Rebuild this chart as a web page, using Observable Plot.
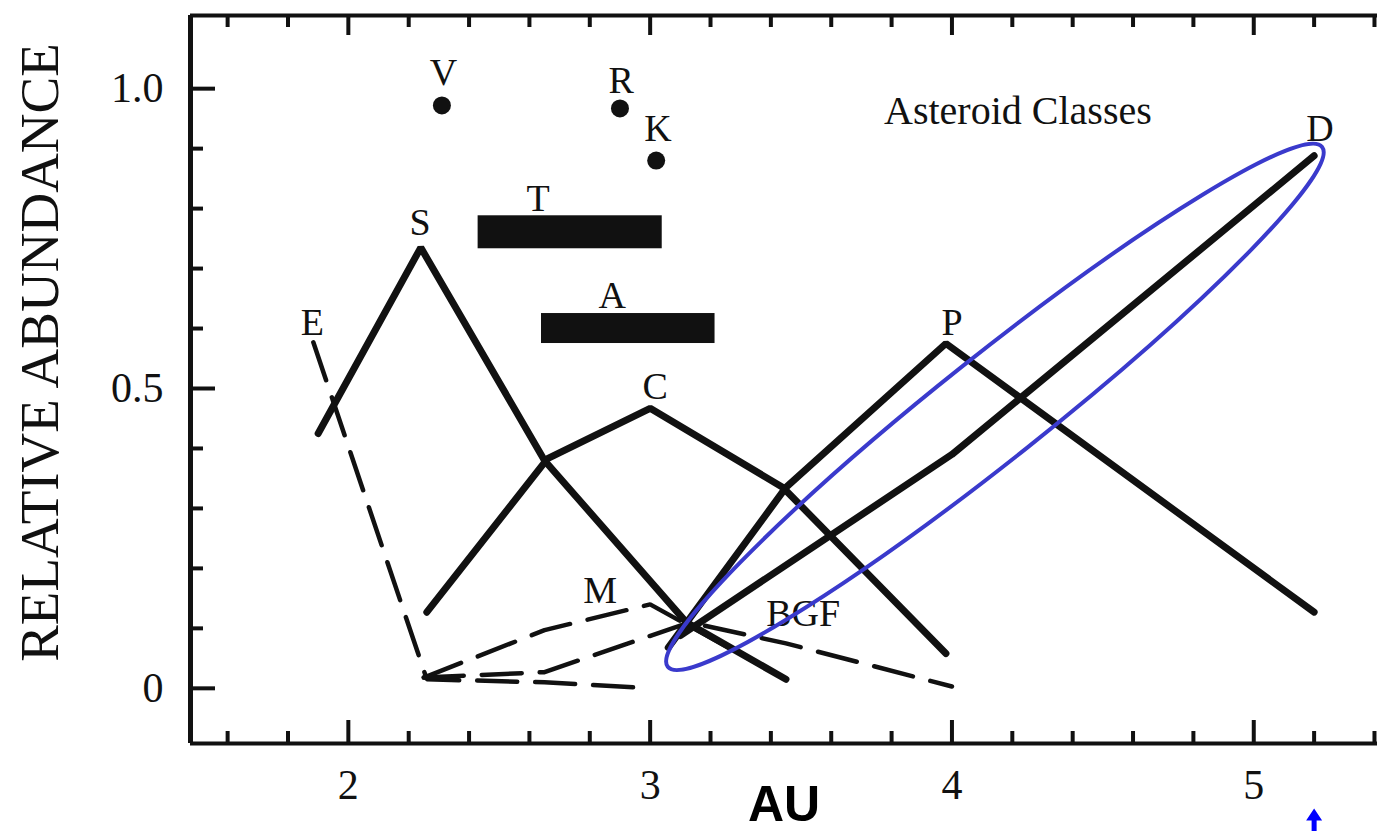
<!DOCTYPE html>
<html>
<head>
<meta charset="utf-8">
<script src="https://cdn.jsdelivr.net/npm/d3@7"></script>
<script src="https://cdn.jsdelivr.net/npm/@observablehq/plot@0.6"></script>
<style>
  html, body { margin: 0; padding: 0; background: #fff; overflow: hidden; }
</style>
</head>
<body>
<div id="chart"></div>
<script>
// ---- axes ----
const xDomain = [1.477, 5.41];
const yDomain = [-0.092, 1.122];
const xMajorTicks = [2, 3, 4, 5];
const xMinorTicks = [1.6, 1.8, 2.2, 2.4, 2.6, 2.8, 3.2, 3.4, 3.6, 3.8, 4.2, 4.4, 4.6, 4.8, 5.2, 5.4];
const yMajorTicks = [0, 0.5, 1.0];
const yMinorTicks = [0.1, 0.2, 0.3, 0.4, 0.6, 0.7, 0.8, 0.9];

// ---- solid class curves (AU, relative abundance) ----
const sAU = [1.90, 2.24, 2.65, 3.12, 3.45];
const sVal = [0.425, 0.735, 0.38, 0.11, 0.015];
const cAU = [2.26, 2.66, 3.0, 3.44, 3.98];
const cVal = [0.127, 0.383, 0.467, 0.335, 0.058];
const pAU = [3.06, 3.45, 3.98, 5.2];
const pVal = [0.068, 0.335, 0.575, 0.127];
const dAU = [3.10, 4.0, 5.2];
const dVal = [0.088, 0.39, 0.888];

// ---- dashed class curves ----
const eAU = [1.884, 2.26, 2.65, 3.0];
const eVal = [0.577, 0.015, 0.01, 0.0];
const mAU = [2.25, 2.65, 3.0, 3.45];
const mVal = [0.018, 0.097, 0.14, 0.015];
const bgfAU = [2.25, 2.65, 3.13, 3.45, 4.0];
const bgfVal = [0.018, 0.027, 0.11, 0.075, 0.003];

// ---- single-point classes ----
const dotNames = ["V", "R", "K"];
const dotAU = [2.31, 2.90, 3.02];
const dotVal = [0.972, 0.967, 0.88];

// ---- range bars ----
const barNames = ["T", "A"];
const barStart = [2.43, 2.64];
const barEnd = [3.04, 3.215];
const barLow = [0.733, 0.575];
const barHigh = [0.788, 0.625];

// ---- class labels ----
const labelText = ["V", "R", "K", "T", "A", "S", "E", "C", "M", "BGF", "P", "D"];
const labelAU = [2.315, 2.904, 3.026, 2.629, 2.874, 2.238, 1.881, 3.017, 2.834, 3.507, 4.0, 5.219];
const labelVal = [1.027, 1.013, 0.933, 0.817, 0.655, 0.777, 0.61, 0.502, 0.163, 0.125, 0.61, 0.933];

const noteText = ["Asteroid Classes"];
const noteAU = [3.775];
const noteVal = [0.963];

// ---- annotations ----
const ellipseAU = [3.06, 5.228];
const ellipseVal = [0.035, 0.902];
const arrowAU = [5.2];

const solidSeries = [["S", sAU, sVal], ["C", cAU, cVal], ["P", pAU, pVal], ["D", dAU, dVal]];
const dashedSeries = [["E", eAU, eVal], ["M", mAU, mVal], ["BGF", bgfAU, bgfVal]];
const toRows = (series) => series.flatMap(([name, xs, ys]) => xs.map((x, i) => ({name, au: x, val: ys[i]})));
const solidRows = toRows(solidSeries);
const dashedRows = toRows(dashedSeries);

const INK = "#111";
const W = 1377, H = 831, ML = 190, MR = 0, MT = 15, MB = 88;
const plotW = W - ML - MR, plotH = H - MT - MB;

function ellipseMark(index, scales) {
  const x1 = scales.x(ellipseAU[0]), y1 = scales.y(ellipseVal[0]);
  const x2 = scales.x(ellipseAU[1]), y2 = scales.y(ellipseVal[1]);
  const cx = (x1 + x2) / 2, cy = (y1 + y2) / 2;
  const rx = Math.hypot(x2 - x1, y2 - y1) / 2;
  const ang = Math.atan2(y2 - y1, x2 - x1) * 180 / Math.PI;
  return d3.create("svg:ellipse")
    .attr("cx", cx).attr("cy", cy).attr("rx", rx).attr("ry", 52)
    .attr("transform", `rotate(${ang} ${cx} ${cy})`)
    .attr("fill", "none").attr("stroke", "#3a3acc").attr("stroke-width", 4)
    .node();
}

const arrowSymbol = {
  draw(ctx) {
    ctx.moveTo(0, 0);
    ctx.lineTo(8, 12);
    ctx.lineTo(2.5, 12);
    ctx.lineTo(2.5, 30);
    ctx.lineTo(-2.5, 30);
    ctx.lineTo(-2.5, 12);
    ctx.lineTo(-8, 12);
    ctx.closePath();
  }
};

const chart = Plot.plot({
  width: W, height: H,
  marginLeft: ML, marginRight: MR, marginTop: MT, marginBottom: MB,
  style: {fontFamily: "'Liberation Serif', 'Times New Roman', serif", fontSize: "42px", color: INK, background: "white"},
  x: {domain: xDomain, ticks: xMajorTicks, tickSize: 0, tickPadding: 26, tickFormat: d => String(d), label: null},
  y: {domain: yDomain, ticks: yMajorTicks, tickSize: 0, tickPadding: 27, tickFormat: d => d === 0 ? "0" : d.toFixed(1), label: null},
  marks: [
    // frame lines
    Plot.ruleX([xDomain[0]], {stroke: INK, strokeWidth: 5}),
    Plot.ruleY([yDomain[0]], {stroke: INK, strokeWidth: 4}),
    Plot.ruleY([yDomain[1]], {stroke: INK, strokeWidth: 4}),
    // inward ticks: bottom
    Plot.ruleX(xMinorTicks, {insetTop: plotH - 12, stroke: INK, strokeWidth: 4}),
    Plot.ruleX(xMajorTicks, {insetTop: plotH - 23, stroke: INK, strokeWidth: 4}),
    // inward ticks: top
    Plot.ruleX(xMinorTicks, {insetBottom: plotH - 12, stroke: INK, strokeWidth: 4}),
    Plot.ruleX(xMajorTicks, {insetBottom: plotH - 20, stroke: INK, strokeWidth: 4}),
    // inward ticks: left
    Plot.ruleY(yMinorTicks, {insetRight: plotW - 13, stroke: INK, strokeWidth: 4}),
    Plot.ruleY(yMajorTicks, {insetRight: plotW - 25, stroke: INK, strokeWidth: 4}),

    // range bars
    Plot.rect(barNames, {x1: (d, i) => barStart[i], x2: (d, i) => barEnd[i], y1: (d, i) => barLow[i], y2: (d, i) => barHigh[i], fill: INK}),
    // dashed curves
    Plot.line(dashedRows, {x: "au", y: "val", z: "name", stroke: INK, strokeWidth: 4.5, strokeDasharray: "40,18", strokeLinejoin: "miter"}),
    // solid curves
    Plot.line(solidRows, {x: "au", y: "val", z: "name", stroke: INK, strokeWidth: 7, strokeLinejoin: "miter"}),
    // single points
    Plot.dot(dotNames, {x: (d, i) => dotAU[i], y: (d, i) => dotVal[i], r: 9, fill: INK}),
    // labels
    Plot.text(labelText, {x: (d, i) => labelAU[i], y: (d, i) => labelVal[i], text: d => d, fontSize: 38, fill: INK}),
    Plot.text(noteText, {x: (d, i) => noteAU[i], y: (d, i) => noteVal[i], text: d => d, textAnchor: "start", fontSize: 40, fill: INK}),
    // axis titles
    Plot.text(["RELATIVE ABUNDANCE"], {frameAnchor: "left", textAnchor: "middle", lineAnchor: "middle", dx: -150, dy: -27, rotate: -90, text: d => d, fontSize: 55, fill: INK}),
    Plot.text(["AU"], {frameAnchor: "bottom", textAnchor: "middle", lineAnchor: "middle", dy: 61, text: d => d, fontSize: 50, fontWeight: "bold", fontFamily: "'Liberation Sans', Arial, sans-serif", fill: "#000"}),
    // annotations
    ellipseMark,
    Plot.dot(arrowAU, {x: d => d, frameAnchor: "bottom", dy: 65, symbol: arrowSymbol, r: 6, fill: "#0000ff", stroke: "none"})
  ]
});
document.getElementById("chart").appendChild(chart);
</script>
</body>
</html>
